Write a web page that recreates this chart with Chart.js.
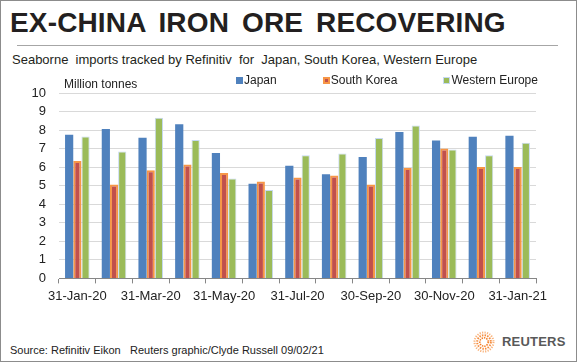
<!DOCTYPE html>
<html>
<head>
<meta charset="utf-8">
<script src="https://cdn.jsdelivr.net/npm/chart.js@4/dist/chart.umd.min.js"></script>
<style>
  html, body { margin: 0; padding: 0; background: #fff; }
  #frame { position: relative; width: 577px; height: 362px; box-sizing: border-box; border: 1px solid #8c8c8c; overflow: hidden; font-family: "Liberation Sans", Arial, sans-serif; color: #231f20; background: #fff; }
  .abs { position: absolute; white-space: pre; line-height: 1; }
  #title { left: 9px; top: 8px; font-size: 28px; font-weight: bold; letter-spacing: 0.15px; word-spacing: 5px; }
  #rule { position: absolute; left: 16px; top: 44px; width: 541px; height: 1px; background: #a6a6a6; }
  #subtitle { left: 11px; top: 52px; font-size: 13px; }
  #unit { left: 63px; top: 77px; font-size: 12px; color: #222; }
  #legend { position: absolute; left: 235px; top: 72px; display: flex; gap: 46px; font-size: 12px; color: #222; }
  .item { display: flex; align-items: center; line-height: 14px; }
  .box { width: 7px; height: 7px; box-sizing: border-box; margin-right: 1px; }
  #chartwrap { position: absolute; left: 0; top: 68px; }
  #source { left: 9px; top: 344px; font-size: 11px; color: #222; }
  #credit { left: 129px; top: 344px; font-size: 11px; color: #222; }
  #reuters { left: 501px; top: 334px; font-size: 13px; font-weight: bold; color: #595959; letter-spacing: 0.2px; }
  #logo { position: absolute; left: 472px; top: 330px; }
</style>
</head>
<body>
<div id="frame">
  <div id="title" class="abs">EX-CHINA IRON ORE RECOVERING</div>
  <div id="rule"></div>
  <div id="subtitle" class="abs">Seaborne  imports tracked by Refinitiv  for  Japan, South Korea, Western Europe</div>
  <div id="chartwrap"><canvas id="c" width="577" height="240"></canvas></div>
  <div id="unit" class="abs">Million tonnes</div>
  <div id="legend"></div>
  <div id="source" class="abs">Source: Refinitiv Eikon</div>
  <div id="credit" class="abs">Reuters graphic/Clyde Russell 09/02/21</div>
  <svg id="logo" width="22" height="22" viewBox="0 0 22 22">
    <circle cx="11" cy="11" r="9.5" fill="none" stroke="#f9b27a" stroke-width="2" stroke-dasharray="1.2 1.3"/>
    <circle cx="11" cy="11" r="6.8" fill="none" stroke="#f58b3c" stroke-width="2" stroke-dasharray="1.5 1.2"/>
    <circle cx="11" cy="11" r="4.2" fill="none" stroke="#f47b20" stroke-width="1.6" stroke-dasharray="1.4 1"/>
    <circle cx="11" cy="11" r="2" fill="#fff"/>
  </svg>
  <div id="reuters" class="abs">REUTERS</div>
</div>
<script>
const categories = ['31-Jan-20','29-Feb-20','31-Mar-20','30-Apr-20','31-May-20','30-Jun-20','31-Jul-20','31-Aug-20','30-Sep-20','31-Oct-20','30-Nov-20','31-Dec-20','31-Jan-21'];
const japan = [7.75, 8.06, 7.59, 8.32, 6.76, 5.10, 6.08, 5.62, 6.55, 7.90, 7.44, 7.64, 7.69];
const southKorea = [6.33, 5.06, 5.84, 6.15, 5.68, 5.22, 5.44, 5.55, 5.06, 5.96, 7.00, 6.01, 6.01];
const westernEurope = [7.66, 6.85, 8.67, 7.47, 5.39, 4.77, 6.64, 6.74, 7.57, 8.25, 6.95, 6.64, 7.31];
const seriesNames = ['Japan', 'South Korea', 'Western Europe'];
const yTicks = [0,1,2,3,4,5,6,7,8,9,10];

const FONT = '"Liberation Sans", Arial, sans-serif';

const chart = new Chart(document.getElementById('c'), {
  type: 'bar',
  data: {
    labels: categories,
    datasets: [
      { label: seriesNames[0], data: japan, backgroundColor: '#4f81bd', borderWidth: 0 },
      { label: seriesNames[1], data: southKorea, backgroundColor: '#c0504d', borderColor: '#f79646', borderWidth: 2 },
      { label: seriesNames[2], data: westernEurope, backgroundColor: '#9bbb59', borderColor: '#c6d9f1', borderWidth: 1 }
    ]
  },
  options: {
    responsive: false,
    animation: false,
    devicePixelRatio: 1,
    layout: { padding: { left: 13, right: 42, top: 24, bottom: 0 } },
    datasets: { bar: { categoryPercentage: 0.67, barPercentage: 1.0 } },
    plugins: { legend: { display: false }, tooltip: { enabled: false } },
    scales: {
      x: {
        grid: { offset: true, drawOnChartArea: false, drawTicks: true, tickLength: 5, color: '#868686' },
        border: { display: true, color: '#868686', width: 1 },
        ticks: {
          autoSkip: false, maxRotation: 0, minRotation: 0, padding: 5,
          color: '#222', font: { family: FONT, size: 13 },
          callback: (v, i) => (i % 2 === 0 ? categories[i] : '')
        }
      },
      y: {
        min: 0, max: 10,
        afterFit: (s) => { s.width = 45; },
        afterBuildTicks: (s) => { s.ticks = yTicks.map(v => ({ value: v })); },
        grid: { color: '#d9d9d9', drawTicks: false },
        border: { display: false },
        ticks: { autoSkip: false, padding: 13, color: '#222', font: { family: FONT, size: 13 } }
      }
    }
  }
});

// HTML legend built from the chart's datasets
const legendEl = document.getElementById('legend');
chart.data.datasets.forEach(ds => {
  const item = document.createElement('div');
  item.className = 'item';
  const box = document.createElement('span');
  box.className = 'box';
  box.style.background = ds.backgroundColor;
  if (ds.borderWidth) box.style.border = (ds.borderWidth > 1 ? 2 : 1) + 'px solid ' + ds.borderColor;
  const txt = document.createElement('span');
  txt.textContent = ds.label;
  item.appendChild(box);
  item.appendChild(txt);
  legendEl.appendChild(item);
});
</script>
</body>
</html>
